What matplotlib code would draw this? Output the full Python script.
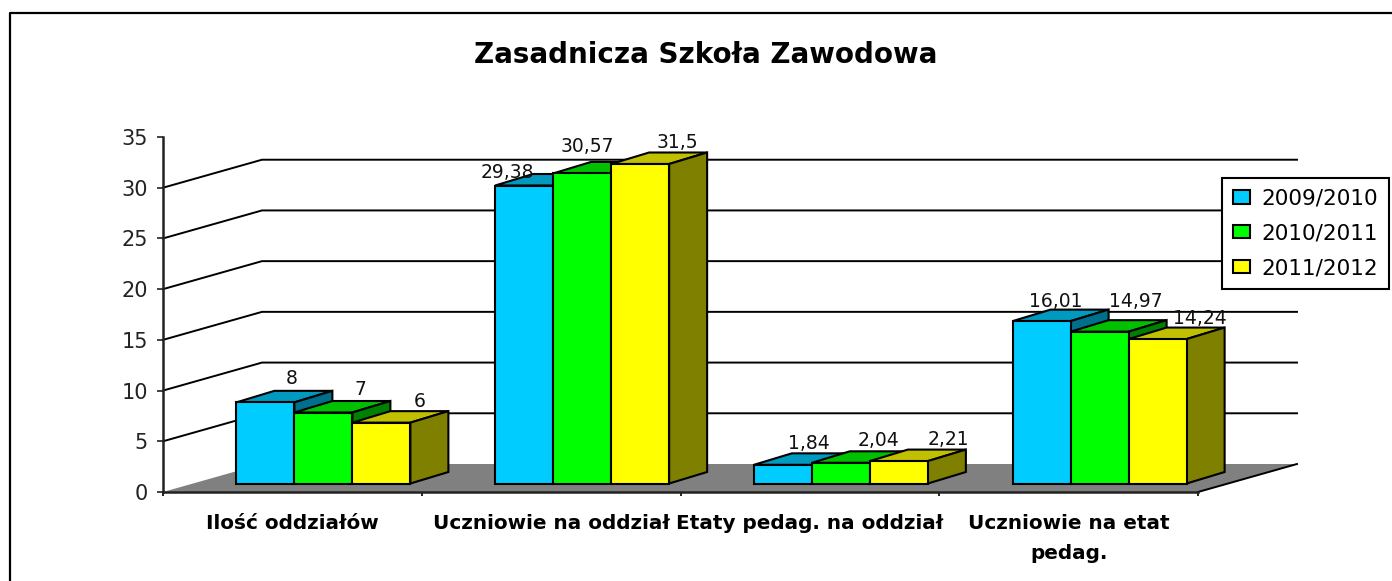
import matplotlib
matplotlib.use('Agg')
import matplotlib.pyplot as plt
from matplotlib.lines import Line2D
from matplotlib.patches import Polygon

categories = ['Ilość oddziałów', 'Uczniowie na oddział', 'Etaty pedag. na oddział', 'Uczniowie na etat\npedag.']
years = ['2009/2010', '2010/2011', '2011/2012']
v2009 = [8, 29.38, 1.84, 16.01]
v2010 = [7, 30.57, 2.04, 14.97]
v2011 = [6, 31.5, 2.21, 14.24]
text2009 = ['8', '29,38', '1,84', '16,01']
text2010 = ['7', '30,57', '2,04', '14,97']
text2011 = ['6', '31,5', '2,21', '14,24']

W, H = 1392, 581
fronts = ['#00CCFF', '#00FF00', '#FFFF00']
tops = ['#0099BF', '#00C000', '#C0C000']
sides = ['#006F8C', '#008000', '#808000']

# label nudges in px from the middle of each front face top (Excel put them oddly)
nudge2009 = [(26, 24), (-17, 13), (26, 21), (14, 20)]
nudge2010 = [(37, 23), (5, 27), (38, 22), (36, 30)]
nudge2011 = [(38, 21), (37, 21), (50, 22), (42, 21)]

plt.rcParams['font.family'] = ['DejaVu Sans']

fig = plt.figure(figsize=(W / 100, H / 100), dpi=100)
left, right, bottom, top = 163, 1198, 492, 137
ax = fig.add_axes([left / W, 1 - bottom / H, (right - left) / W, (bottom - top) / H])
ax.set_xlim(0, 4)
ax.set_ylim(0, 35)
ax.patch.set_visible(False)

# depth of the fake 3d box in data units
px_x = 4 / (right - left)
px_y = 35 / (bottom - top)
depth_x = 99 * px_x
depth_y = 28 * px_y

ax.add_patch(Polygon([(0, 0), (4, 0), (4 + depth_x, depth_y), (depth_x, depth_y)],
                     facecolor='#808080', edgecolor='none', zorder=1, clip_on=False))
ax.plot([4, 4 + depth_x], [0, depth_y], color='black', lw=1.4, zorder=1.5, clip_on=False)

for v in range(5, 35, 5):
    ax.plot([0, depth_x, 4 + depth_x], [v, v + depth_y, v + depth_y],
            color='black', lw=1.4, zorder=1.5, clip_on=False)

# bars stand a bit into the floor
bar_w = 58 * px_x
shift_x = 31 * px_x
base_y = 8.5 * px_y
bar_dx = 38 * px_x
bar_dy = 11.5 * px_y

series = [v2009, v2010, v2011]
texts = [text2009, text2010, text2011]
nudges = [nudge2009, nudge2010, nudge2011]
handles = []
z = 3
for i, vals in enumerate(series):
    for c, val in enumerate(vals):
        x0 = c + 0.5 + shift_x + (i - 1) * bar_w - bar_w / 2
        x1 = x0 + bar_w
        y1 = base_y + val
        ax.add_patch(Polygon([(x0, y1), (x1, y1), (x1 + bar_dx, y1 + bar_dy), (x0 + bar_dx, y1 + bar_dy)],
                             facecolor=tops[i], edgecolor='black', lw=1.5, zorder=z, clip_on=False))
        ax.add_patch(Polygon([(x1, base_y), (x1 + bar_dx, base_y + bar_dy), (x1 + bar_dx, y1 + bar_dy), (x1, y1)],
                             facecolor=sides[i], edgecolor='black', lw=1.5, zorder=z, clip_on=False))
        b = ax.bar(x0, val, bar_w, bottom=base_y, align='edge', color=fronts[i], edgecolor='black',
                   lw=1.5, zorder=z + 0.5, clip_on=False)
        if c == 0:
            handles.append(b[0])
        dx, dy = nudges[i][c]
        ax.annotate(texts[i][c], ((x0 + x1) / 2, y1), xytext=(dx * 0.72, dy * 0.72), textcoords='offset points',
                    ha='center', va='center', fontsize=13.5, color='#111111', zorder=20, annotation_clip=False)
    z += 1

ax.spines['top'].set_visible(False)
ax.spines['right'].set_visible(False)
for s in ['left', 'bottom']:
    ax.spines[s].set_linewidth(1.8)
    ax.spines[s].set_color('#222222')

ax.set_yticks(range(0, 36, 5))
ax.tick_params(axis='y', length=4, width=1.2, pad=7, labelsize=15, colors='#222222')
ax.set_xticks(range(5))
ax.set_xticklabels([])
ax.tick_params(axis='x', which='major', length=3, width=1.2)
ax.set_xticks([c + 0.5 for c in range(4)], categories, minor=True, fontweight='bold', fontsize=14.4, linespacing=1.72)
ax.tick_params(axis='x', which='minor', length=0, pad=15.8)

fig.text(706 / W, 1 - 55 / H, 'Zasadnicza Szkoła Zawodowa', ha='center', va='center',
         fontsize=20, fontweight='bold', color='black')

leg = ax.legend(handles, years, loc='upper left', bbox_to_anchor=(1222 / W, 1 - 178 / H),
                bbox_transform=fig.transFigure, borderaxespad=0, fancybox=False, framealpha=1,
                edgecolor='black', fontsize=15.5, handlelength=0.78, handleheight=0.58,
                handletextpad=0.55, labelspacing=0.68, borderpad=0.5)
leg.get_frame().set_linewidth(1.5)
leg.set_zorder(30)

# outer chart border, cut off by the screenshot on the right and bottom
fig.add_artist(Line2D([10 / W, 10 / W, 1], [0, 1 - 13 / H, 1 - 13 / H], color='black', lw=1.6))

fig.savefig('out.png', dpi=100)
